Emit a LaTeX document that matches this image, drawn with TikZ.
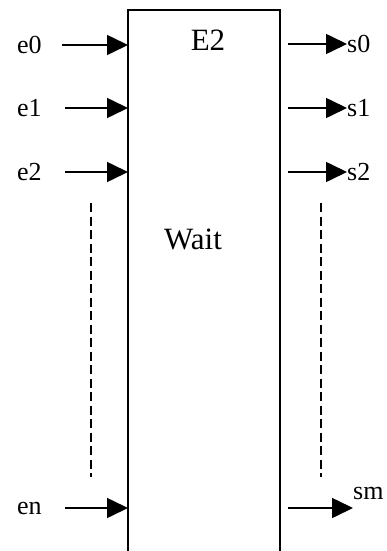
\documentclass[tikz,border=0pt]{standalone}
\usepackage{fontspec}
\setmainfont{Liberation Serif}
\usetikzlibrary{arrows.meta}
\begin{document}
\begin{tikzpicture}[x=1pt,y=-1pt,
  lbl/.style={font=\fontsize{26}{26}\selectfont, inner sep=0pt},
  big/.style={font=\fontsize{31}{31}\selectfont, inner sep=0pt},
  sig/.style={line width=1.6pt, -{Triangle[length=21pt,width=20pt]}},
  dashline/.style={line width=1.5pt, dash pattern=on 9pt off 4.5pt}]
\useasboundingbox (0,0) rectangle (386,551);
% box (open at bottom)
\draw[line width=1.4pt] (128,551) -- (128,10) -- (280,10) -- (280,551);
\node[big] (title) at (208,40) {E2};
\node[big] (wait) at (193,239) {Wait};
% inputs
\foreach \n/\y in {0/45,1/108,2/172,n/508}{
  \node[lbl, anchor=west] (e\n) at (17,\y) {e\n};
  \coordinate (ein\n) at (128,\y);
}
\coordinate (es0) at (62,45);
\coordinate (es1) at (65,108);
\coordinate (es2) at (65,172);
\coordinate (esn) at (65,508);
\foreach \n in {0,1,2,n}{ \draw[sig] (es\n) -- (ein\n); }
% outputs
\foreach \n/\y in {0/44,1/108,2/172}{
  \coordinate (so\n) at (288,\y);
  \node[lbl, anchor=west] (s\n) at (347,\y) {s\n};
  \draw[sig] (so\n) -- (s\n.west);
}
\coordinate (som) at (288,508);
\coordinate (sotip) at (353,508);
\node[lbl, anchor=west] (sm) at (353,493) {sm};
\draw[sig] (som) -- (sotip);
% dashed lines
\coordinate (dl1) at (91,203); \coordinate (dl2) at (91,477);
\coordinate (dr1) at (321,203); \coordinate (dr2) at (321,477);
\draw[dashline] (dl1) -- (dl2);
\draw[dashline] (dr1) -- (dr2);
\end{tikzpicture}
\end{document}
